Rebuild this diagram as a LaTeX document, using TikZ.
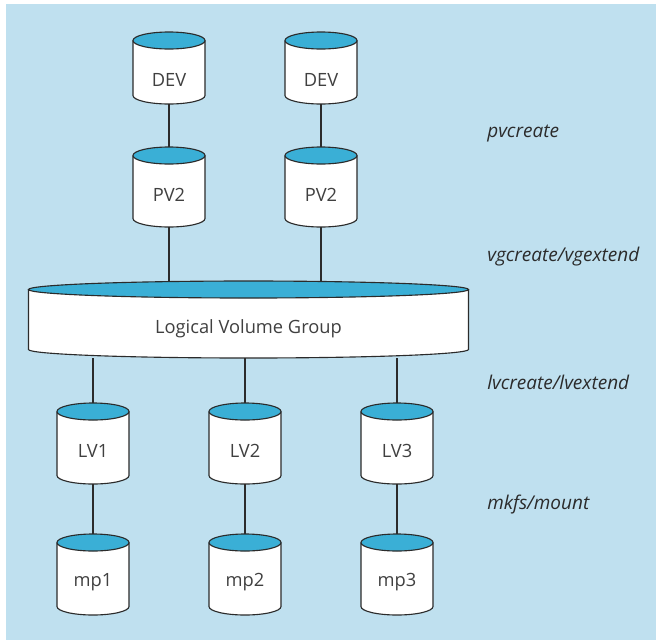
\documentclass[tikz,border=0pt]{standalone}
\usepackage{fontspec}
\setmainfont{Open Sans}
\definecolor{bgblue}{HTML}{BFE0EF}
\definecolor{capblue}{HTML}{3AAFD6}
\definecolor{edge}{HTML}{2B2B2B}
\tikzset{
	drumline/.style={draw=edge, line width=0.8pt},
	drumbox/.style={inner sep=0pt},
	drumtext/.style={inner sep=0pt, font=\fontsize{13}{15}\selectfont, text=edge!90!white},
	link/.style={draw=edge, line width=0.8pt},
	cmd/.style={anchor=west, inner sep=0pt, font=\fontsize{13.5}{15}\selectfont\itshape, text=edge}
}
% name (centre x, top y)(width:height) text
\def\drum#1(#2,#3)(#4:#5)#6{%
	\draw[drumline, fill=white] ({#2-#4/2}, {#3+8.5}) -- ({#2-#4/2}, {#3+#5-8.5}) arc[start angle=180, end angle=0, x radius=#4/2, y radius=8.5] -- ({#2+#4/2}, {#3+8.5});
	\draw[drumline, fill=capblue] (#2, {#3+8.5}) ellipse [x radius=#4/2, y radius=8.5];
	\node[drumbox, minimum width=#4*0.025cm, minimum height=#5*0.025cm] (#1) at (#2, {#3+#5/2}) {};
	\node[drumtext] (#1-txt) at (#2, {#3+48}) {#6};
}

\begin{document}
\begin{tikzpicture}[x=0.025cm, y=-0.025cm]
		%%%%% START %%%%%
		
		\useasboundingbox (0, 0) rectangle (656, 640);
		\fill[bgblue] (6, 4) rectangle (656, 640);
		
		\drum{dev1}(169, 32)(72:72){DEV}
		\drum{dev2}(321, 32)(72:72){DEV}
		\drum{pv1}(169, 147)(72:80){PV2}
		\drum{pv2}(321, 147)(72:80){PV2}
		
		\drum{lvg}(248.5, 281)(440:77){Logical Volume Group}
		
		\drum{lv1}(93, 403)(72:81){LV1}
		\drum{lv2}(245, 403)(72:81){LV2}
		\drum{lv3}(397, 403)(72:81){LV3}
		\drum{mp1}(93, 534)(72:81){mp1}
		\drum{mp2}(245, 534)(72:81){mp2}
		\drum{mp3}(397, 534)(72:81){mp3}
		
		\draw[link] (dev1.south) -- (pv1.north);
		\draw[link] (dev2.south) -- (pv2.north);
		\draw[link] (pv1.south) -- (pv1.south |- lvg.north);
		\draw[link] (pv2.south) -- (pv2.south |- lvg.north);
		\draw[link] (lv1.north |- lvg.south) -- (lv1.north);
		\draw[link] (lv2.north |- lvg.south) -- (lv2.north);
		\draw[link] (lv3.north |- lvg.south) -- (lv3.north);
		\draw[link] (lv1.south) -- (mp1.north);
		\draw[link] (lv2.south) -- (mp2.north);
		\draw[link] (lv3.south) -- (mp3.north);
		
		\node[cmd] (pvc) at (487, 134) {pvcreate};
		\node[cmd] (vgc) at (487, 257) {vgcreate/vgextend};
		\node[cmd] (lvc) at (487, 382) {lvcreate/lvextend};
		\node[cmd] (mkf) at (487, 505) {mkfs/mount};
		
		%%%%% END %%%%%
	\end{tikzpicture}
\end{document}
